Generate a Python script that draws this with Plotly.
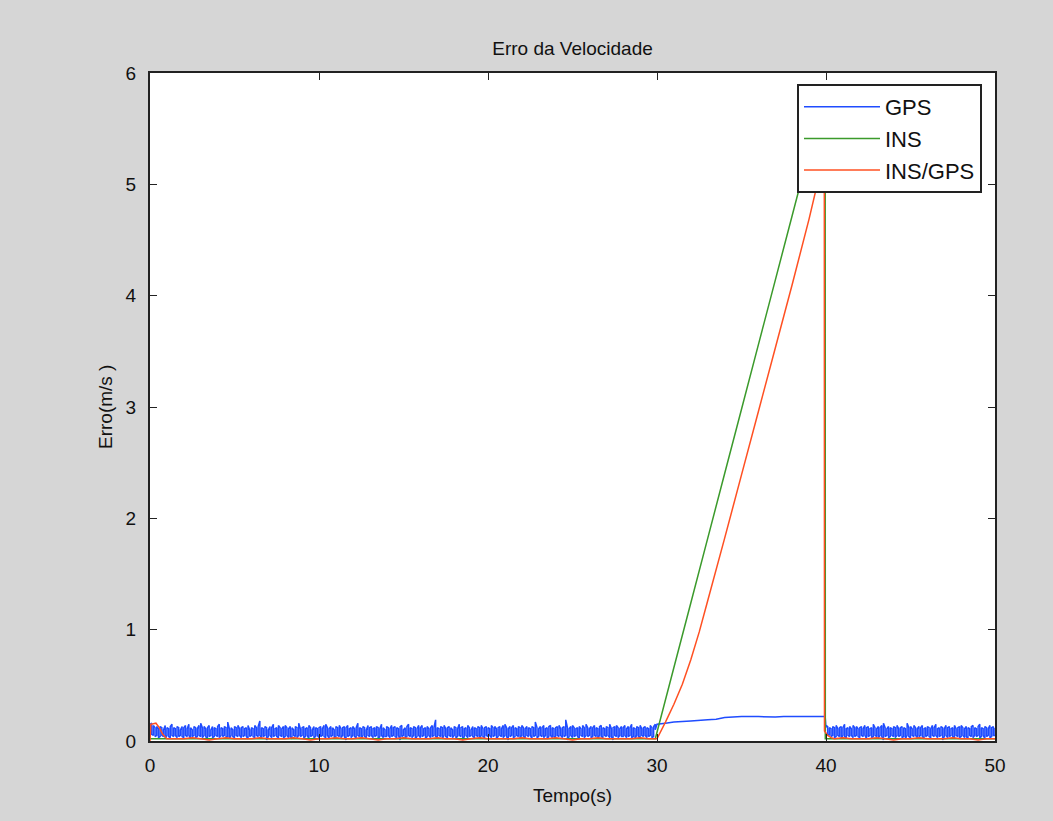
import numpy as np
import plotly.graph_objects as go

# ---------------- data ----------------
DT = 0.1
# GPS velocity error, 0 - 29.9 s: per 0.1 s interval, upper and lower extent of the noisy signal
gps_upper_a = [
    0.15,0.16,0.14,0.12,0.13,0.11,0.13,0.12,0.10,0.14,0.12,0.11,0.13,0.15,0.12,0.11,0.13,0.12,0.10,0.13,
    0.12,0.14,0.11,0.15,0.12,0.10,0.13,0.12,0.11,0.14,0.16,0.12,0.13,0.11,0.12,0.14,0.10,0.13,0.12,0.11,
    0.13,0.15,0.12,0.11,0.13,0.12,0.17,0.11,0.12,0.10,0.13,0.12,0.14,0.11,0.12,0.13,0.11,0.12,0.14,0.10,
    0.12,0.11,0.14,0.12,0.13,0.18,0.12,0.11,0.13,0.12,0.10,0.13,0.12,0.15,0.11,0.12,0.14,0.12,0.11,0.13,
    0.14,0.12,0.11,0.13,0.12,0.10,0.13,0.12,0.16,0.11,0.12,0.13,0.11,0.12,0.14,0.12,0.10,0.13,0.12,0.11,
    0.12,0.13,0.11,0.14,0.15,0.12,0.11,0.13,0.12,0.10,0.13,0.12,0.14,0.11,0.12,0.13,0.12,0.14,0.11,0.12,
    0.13,0.11,0.12,0.16,0.12,0.11,0.13,0.12,0.10,0.14,0.12,0.13,0.11,0.12,0.13,0.12,0.11,0.15,0.12,0.10,
    0.13,0.12,0.11,0.14,0.12,0.13,0.12,0.11,0.13,0.14,0.10,0.12,0.13,0.15,0.12,0.11,0.13,0.12,0.11,0.14,
    0.12,0.14,0.11,0.12,0.13,0.11,0.12,0.14,0.12,0.19,0.12,0.11,0.13,0.12,0.14,0.11,0.12,0.13,0.12,0.10,
    0.13,0.12,0.11,0.15,0.12,0.13,0.11,0.12,0.14,0.12,0.10,0.13,0.12,0.11,0.13,0.12,0.14,0.11,0.12,0.13,
    0.12,0.11,0.14,0.12,0.13,0.11,0.12,0.13,0.11,0.14,0.15,0.12,0.11,0.13,0.12,0.14,0.12,0.11,0.13,0.12,
    0.14,0.12,0.11,0.13,0.12,0.11,0.13,0.12,0.17,0.12,0.11,0.13,0.12,0.14,0.11,0.12,0.13,0.14,0.12,0.11,
    0.12,0.13,0.14,0.11,0.12,0.13,0.19,0.12,0.11,0.13,0.14,0.12,0.11,0.12,0.13,0.11,0.14,0.12,0.15,0.12,
    0.11,0.13,0.12,0.14,0.12,0.11,0.13,0.14,0.12,0.11,0.13,0.12,0.15,0.11,0.12,0.13,0.14,0.12,0.11,0.13,
    0.12,0.14,0.11,0.13,0.12,0.15,0.12,0.11,0.13,0.12,0.14,0.11,0.12,0.13,0.12,0.11,0.14,0.12,0.13,0.15,
]
gps_lower_a = [
    0.10,0.06,0.05,0.04,0.05,0.03,0.04,0.05,0.04,0.02,0.05,0.04,0.03,0.05,0.04,0.05,0.03,0.04,0.05,0.04,
    0.03,0.05,0.04,0.05,0.02,0.04,0.05,0.03,0.04,0.05,0.04,0.03,0.05,0.04,0.01,0.04,0.05,0.03,0.04,0.05,
    0.04,0.03,0.05,0.04,0.05,0.03,0.04,0.02,0.05,0.04,0.03,0.05,0.04,0.05,0.03,0.04,0.05,0.04,0.02,0.04,
    0.05,0.04,0.03,0.05,0.04,0.05,0.03,0.04,0.05,0.01,0.04,0.05,0.03,0.04,0.05,0.04,0.03,0.05,0.04,0.03,
    0.04,0.05,0.03,0.04,0.02,0.05,0.04,0.03,0.05,0.04,0.05,0.03,0.04,0.05,0.02,0.04,0.05,0.03,0.04,0.05,
    0.03,0.04,0.05,0.04,0.03,0.05,0.02,0.04,0.05,0.03,0.04,0.05,0.04,0.03,0.05,0.04,0.01,0.04,0.05,0.03,
    0.05,0.04,0.03,0.05,0.04,0.02,0.05,0.04,0.03,0.05,0.04,0.05,0.03,0.04,0.05,0.02,0.04,0.05,0.03,0.04,
    0.04,0.05,0.03,0.04,0.05,0.04,0.03,0.05,0.01,0.04,0.05,0.03,0.04,0.05,0.04,0.03,0.05,0.02,0.04,0.05,
    0.03,0.04,0.05,0.02,0.04,0.05,0.03,0.04,0.05,0.04,0.03,0.05,0.04,0.02,0.05,0.04,0.03,0.05,0.04,0.03,
    0.05,0.03,0.04,0.05,0.04,0.01,0.04,0.05,0.03,0.04,0.05,0.04,0.03,0.05,0.04,0.02,0.05,0.04,0.03,0.05,
    0.04,0.05,0.03,0.04,0.05,0.02,0.04,0.05,0.04,0.03,0.05,0.04,0.01,0.04,0.05,0.03,0.04,0.05,0.04,0.03,
    0.05,0.04,0.03,0.05,0.04,0.05,0.02,0.04,0.05,0.03,0.04,0.05,0.04,0.03,0.05,0.02,0.04,0.05,0.03,0.04,
    0.03,0.05,0.04,0.05,0.03,0.04,0.05,0.01,0.04,0.05,0.03,0.04,0.05,0.04,0.02,0.05,0.04,0.03,0.05,0.04,
    0.05,0.03,0.04,0.05,0.04,0.02,0.05,0.04,0.03,0.05,0.04,0.05,0.03,0.04,0.01,0.05,0.04,0.03,0.05,0.04,
    0.04,0.05,0.03,0.04,0.05,0.03,0.04,0.02,0.05,0.04,0.03,0.05,0.04,0.05,0.03,0.04,0.05,0.03,0.04,0.10,
]
# GPS during 30 - 40 s (smooth)
gps_mid_t = [30.0,30.5,31.0,31.5,32.0,33.0,33.5,34.0,35.0,36.0,37.0,37.5,38.0,39.0,39.95]
gps_mid_v = [0.15,0.16,0.17,0.175,0.18,0.19,0.195,0.21,0.22,0.22,0.215,0.22,0.22,0.22,0.22]
# GPS 40 - 50 s: per 0.1 s interval, upper and lower extent
gps_upper_b = [
    0.14,0.13,0.12,0.11,0.13,0.12,0.14,0.11,0.12,0.13,0.12,0.15,0.11,0.12,0.13,0.11,0.14,0.12,0.13,0.11,
    0.12,0.13,0.11,0.14,0.12,0.13,0.11,0.12,0.15,0.12,0.11,0.13,0.12,0.14,0.16,0.12,0.11,0.13,0.12,0.11,
    0.13,0.12,0.14,0.11,0.12,0.13,0.12,0.11,0.16,0.12,0.13,0.11,0.14,0.12,0.11,0.13,0.12,0.14,0.11,0.12,
    0.13,0.12,0.11,0.14,0.12,0.15,0.11,0.12,0.13,0.12,0.11,0.14,0.12,0.13,0.11,0.12,0.14,0.11,0.12,0.13,
    0.14,0.12,0.11,0.13,0.12,0.11,0.13,0.14,0.12,0.11,0.13,0.15,0.12,0.11,0.13,0.12,0.11,0.14,0.12,0.13,
    0.12,
]
gps_lower_b = [
    0.12,0.06,0.05,0.04,0.05,0.03,0.04,0.05,0.04,0.02,0.05,0.04,0.03,0.05,0.04,0.05,0.03,0.04,0.05,0.04,
    0.03,0.05,0.04,0.05,0.02,0.04,0.05,0.03,0.04,0.05,0.04,0.03,0.05,0.04,0.01,0.04,0.05,0.03,0.04,0.05,
    0.04,0.03,0.05,0.04,0.05,0.03,0.04,0.02,0.05,0.04,0.03,0.05,0.04,0.05,0.03,0.04,0.05,0.04,0.02,0.04,
    0.05,0.04,0.03,0.05,0.04,0.05,0.03,0.04,0.05,0.01,0.04,0.05,0.03,0.04,0.05,0.04,0.03,0.05,0.04,0.03,
    0.04,0.05,0.03,0.04,0.02,0.05,0.04,0.03,0.05,0.04,0.05,0.03,0.04,0.05,0.02,0.04,0.05,0.03,0.04,0.05,
    0.05,
]

# INS
ins_t = [0.0, 29.9, 31.0, 32.0, 33.0, 34.0, 35.0, 36.0, 37.0, 38.0, 39.0, 39.95, 39.96, 50.0]
ins_v = [0.02, 0.02, 0.66, 1.24, 1.82, 2.40, 2.98, 3.56, 4.14, 4.72, 5.30, 5.86, 0.02, 0.02]

# INS/GPS
insgps_start_t = [0.0, 0.05, 0.35, 0.55, 0.75, 1.0]
insgps_start_v = [0.0, 0.15, 0.16, 0.12, 0.06, 0.02]
insgps_low_a = [  # 1.5 .. 29.5 every 0.5 s
    0.02,0.02,0.03,0.02,0.01,0.02,0.03,0.02,0.02,0.02,0.03,0.02,0.02,0.02,0.03,0.02,0.01,0.02,0.02,
    0.03,0.02,0.02,0.03,0.02,0.01,0.02,0.02,0.03,0.02,0.02,0.02,0.03,0.02,0.02,0.01,0.02,0.03,0.02,
    0.02,0.02,0.02,0.03,0.02,0.02,0.02,0.03,0.02,0.01,0.02,0.02,0.03,0.02,0.02,0.02,0.02,0.03,0.02,
]
insgps_rise_t = [30.0,30.5,31.0,31.5,32.0,32.5,33.0,34.0,35.0,36.0,37.0,38.0,39.0,39.9]
insgps_rise_v = [0.02,0.17,0.33,0.51,0.73,0.98,1.26,1.82,2.39,2.96,3.53,4.10,4.69,5.27]
insgps_drop_t = [39.91, 40.1, 40.3]
insgps_drop_v = [0.09, 0.05, 0.03]
insgps_low_b = [  # 40.5 .. 50 every 0.5 s
    0.02,0.03,0.02,0.02,0.02,0.03,0.02,0.01,0.02,0.02,0.03,0.02,0.02,0.02,0.03,0.02,0.02,0.01,0.02,0.02,
]

x_ticks = [0, 10, 20, 30, 40, 50]
y_ticks = [0, 1, 2, 3, 4, 5, 6]


# ---------------- assemble ----------------
def envelope_path(t0, upper, lower):
    """Zig-zag through the lower/upper extents of each sample interval."""
    xs, ys = [], []
    for i, (hi, lo) in enumerate(zip(upper, lower)):
        t = round(t0 + i * DT, 3)
        pair = (lo, hi) if i % 2 == 0 else (hi, lo)
        xs += [t, t]
        ys += list(pair)
    return xs, ys


xa, ya = envelope_path(0.0, gps_upper_a, gps_lower_a)
xb, yb = envelope_path(40.0, gps_upper_b, gps_lower_b)
gps_t = xa + gps_mid_t + xb
gps_v = ya + gps_mid_v + yb

ig_t = insgps_start_t + list(1.5 + 0.5 * np.arange(len(insgps_low_a))) + insgps_rise_t + \
       insgps_drop_t + list(40.5 + 0.5 * np.arange(len(insgps_low_b)))
ig_v = insgps_start_v + insgps_low_a + insgps_rise_v + insgps_drop_v + insgps_low_b

BLUE = "#1f4cff"
GREEN = "#3b9a2b"
RED = "#ff5022"
FONT = "Liberation Sans, Arial, sans-serif"

fig = go.Figure()
fig.add_trace(go.Scatter(x=gps_t, y=gps_v, mode="lines", name="GPS",
                         line=dict(color=BLUE, width=1.5, simplify=False)))
fig.add_trace(go.Scatter(x=ins_t, y=ins_v, mode="lines", name="INS",
                         line=dict(color=GREEN, width=1.5, simplify=False)))
fig.add_trace(go.Scatter(x=ig_t, y=ig_v, mode="lines", name="INS/GPS",
                         line=dict(color=RED, width=1.5, simplify=False)))

W, H = 1053, 821
L, R, T, B = 150, 58, 73, 80
pw, ph = W - L - R, H - T - B

axis_common = dict(showline=True, linecolor="#222222", linewidth=2, mirror="ticks",
                   ticks="inside", ticklen=7, tickwidth=1.2, tickcolor="#222222",
                   showgrid=False, zeroline=False,
                   tickfont=dict(family=FONT, size=19, color="#111111"))

fig.update_layout(
    width=W, height=H,
    margin=dict(l=L, r=R, t=T, b=B),
    paper_bgcolor="#d6d6d6", plot_bgcolor="white",
    font=dict(family=FONT, size=19, color="#111111"),
    title=dict(text="Erro da Velocidade", x=(L + pw / 2) / W, xanchor="center",
               y=1 - 48 / H, yanchor="middle",
               font=dict(family=FONT, size=19, color="#111111")),
    xaxis=dict(range=[0, 50], tickvals=x_ticks, ticklabelstandoff=6, **axis_common),
    yaxis=dict(range=[0, 6], tickvals=y_ticks, ticklabelstandoff=8, **axis_common),
    legend=dict(x=(797 - L) / pw, y=(H - B - 84) / ph, xanchor="left", yanchor="top",
                bgcolor="white", bordercolor="#222222", borderwidth=2,
                font=dict(family=FONT, size=22, color="#111111"),
                itemwidth=76, tracegroupgap=0),
    showlegend=True,
    annotations=[
        dict(text="Tempo(s)", xref="paper", yref="paper", x=0.5, y=(H - B - 795) / ph,
             xanchor="center", yanchor="middle", showarrow=False,
             font=dict(family=FONT, size=19, color="#111111")),
        dict(text="Erro(m/s )", xref="paper", yref="paper", x=(105 - L) / pw, y=0.5,
             xanchor="center", yanchor="middle", showarrow=False, textangle=-90,
             font=dict(family=FONT, size=19, color="#111111")),
    ],
)

fig.write_html("out.html")
